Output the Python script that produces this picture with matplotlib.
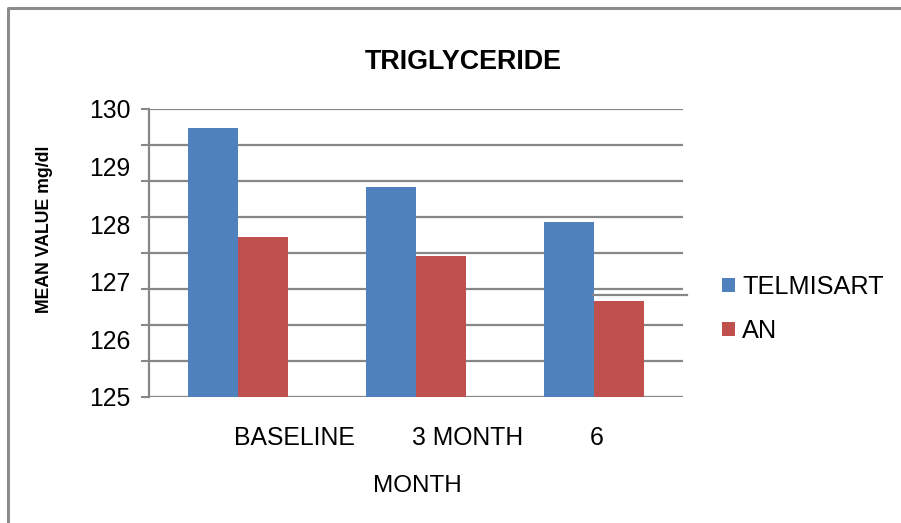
import matplotlib.pyplot as plt
import numpy as np
from matplotlib.lines import Line2D

plt.rcParams['font.family'] = ['Liberation Sans', 'DejaVu Sans']

# data
categories = ["BASELINE", "3 MONTH", "6"]
telmisart = [129.67, 128.64, 128.03]
an = [127.78, 127.44, 126.66]
series_names = ["TELMISART", "AN"]
y_labels = [125, 126, 127, 128, 129, 130]

blue = "#4F81BD"
red = "#C0504D"
grey = "#878787"

fig = plt.figure(figsize=(9.01, 5.23), dpi=100)
ax = fig.add_axes([149 / 901, 1 - 397 / 523, 534 / 901, 288 / 523])

x = np.arange(len(categories))
w = 0.28
ax.bar(x - w / 2, telmisart, width=w, color=blue, label=series_names[0], zorder=3)
ax.bar(x + w / 2, an, width=w, color=red, label=series_names[1], zorder=3)

ax.set_xlim(-0.5, len(categories) - 0.5)
ax.set_ylim(125, 130)

# gridlines split the axis into 8 parts, labels sit on the whole numbers
ax.yaxis.remove_overlapping_locs = False
ax.set_yticks(np.linspace(125, 130, 9))
ax.set_yticklabels([])
ax.tick_params(axis='y', which='major', length=6, width=1.5, color=grey)
ax.set_yticks(y_labels, minor=True)
ax.set_yticklabels([str(v) for v in y_labels], minor=True)
ax.tick_params(axis='y', which='minor', length=0, pad=13.5, labelsize=17.8)
ax.grid(axis='y', which='major', color=grey, linewidth=1.6, zorder=0)
ax.set_axisbelow(True)

ax.set_xticks(x - 0.025)
ax.set_xticklabels(categories, ha='left')
ax.tick_params(axis='x', length=0, pad=21, labelsize=17.8)

for s in ["top", "right", "bottom"]:
    ax.spines[s].set_visible(False)
ax.spines["left"].set_color(grey)
ax.spines["left"].set_linewidth(1.6)

fig.text(463 / 901, 1 - 62 / 523, "TRIGLYCERIDE", fontsize=19.4, fontweight='bold',
         ha='center', va='center')
fig.text(417 / 901, 1 - 486 / 523, "MONTH", fontsize=17.5, ha='center', va='center')
fig.text(45 / 901, 1 - 229 / 523, "MEAN VALUE mg/dl", fontsize=12.7, fontweight='bold',
         rotation=90, ha='center', va='center')

fig.legend(loc='upper left', bbox_to_anchor=(722 / 901, 1 - 275 / 523), frameon=False,
           fontsize=18.2, handlelength=0.5, handleheight=0.5, handletextpad=0.3,
           labelspacing=0.8, borderaxespad=0, borderpad=0)

# stray line and chart border
fig.add_artist(Line2D([593 / 901, 687 / 901], [1 - 295 / 523, 1 - 295 / 523],
                      color=grey, linewidth=1.6))
fig.add_artist(Line2D([8 / 901, 8 / 901, 1], [0, 1 - 8 / 523, 1 - 8 / 523],
                      color="#8c8c8c", linewidth=2.2))

fig.savefig("out.png", dpi=100)
